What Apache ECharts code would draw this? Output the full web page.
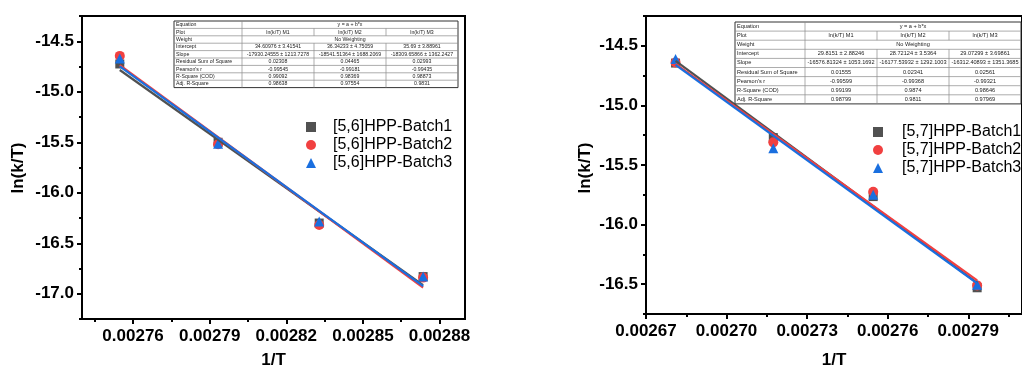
<!DOCTYPE html>
<html>
<head>
<meta charset="utf-8">
<script src="https://cdn.jsdelivr.net/npm/echarts@6/dist/echarts.min.js"></script>
<style>html,body{margin:0;padding:0;background:#fff}#c{width:1022px;height:374px}</style>
</head>
<body>
<div id="c"></div>
<script>
// ---------- data ----------
const leftNames = ['[5,6]HPP-Batch1', '[5,6]HPP-Batch2', '[5,6]HPP-Batch3'];
const leftX = [0.0027548, 0.0027933, 0.0028329, 0.0028736];
const leftB1 = [-14.725, -15.50, -16.30, -16.83];
const leftB2 = [-14.645, -15.52, -16.32, -16.84];
const leftB3 = [-14.67, -15.515, -16.285, -16.83];
const leftFitX = [0.0027548, 0.0028736];
const leftFitM1 = [-14.7845, -16.9146];
const leftFitM2 = [-14.736, -16.938];
const leftFitM3 = [-14.7495, -16.9246];

const rightNames = ['[5,7]HPP-Batch1', '[5,7]HPP-Batch2', '[5,7]HPP-Batch3'];
const rightX = [0.0026810, 0.0027174, 0.0027546, 0.0027933];
const rightB1 = [-14.645, -15.27, -15.765, -16.53];
const rightB2 = [-14.64, -15.31, -15.725, -16.51];
const rightB3 = [-14.61, -15.36, -15.75, -16.505];
const rightFitX = [0.0026810, 0.0027933];
const rightFitM1 = [-14.6274, -16.4889];
const rightFitM2 = [-14.6508, -16.4675];
const rightFitM3 = [-14.6606, -16.4924];

const leftXTicks = [0.00276, 0.00279, 0.00282, 0.00285, 0.00288];
const leftXMinor = [0.002745, 0.002775, 0.002805, 0.002835, 0.002865];
const leftYTicks = [-17.0, -16.5, -16.0, -15.5, -15.0, -14.5];
const leftYMinor = [-17.25, -16.75, -16.25, -15.75, -15.25, -14.75, -14.25];
const rightXTicks = [0.00267, 0.00270, 0.00273, 0.00276, 0.00279];
const rightXMinor = [0.002685, 0.002715, 0.002745, 0.002775, 0.002805];
const rightYTicks = [-16.5, -16.0, -15.5, -15.0, -14.5];
const rightYMinor = [-16.75, -16.25, -15.75, -15.25, -14.75, -14.25];

const tableHeadRows = [['Equation', 'y = a + b*x'], ['Plot', 'ln(k/T) M1', 'ln(k/T) M2', 'ln(k/T) M3'], ['Weight', 'No Weighting']];
const tableLabels = ['Intercept', 'Slope', 'Residual Sum of Square', "Pearson's r", 'R-Square (COD)', 'Adj. R-Square'];
const leftTableVals = [
  ['34.60976 ± 3.41541', '36.34233 ± 4.75059', '35.69 ± 3.88961'],
  ['-17930.24555 ± 1213.7278', '-18541.51364 ± 1688.2069', '-18309.65866 ± 1362.2427'],
  ['0.02308', '0.04465', '0.02993'],
  ['-0.99545', '-0.99181', '-0.99435'],
  ['0.99092', '0.98369', '0.98873'],
  ['0.98638', '0.97554', '0.9831']
];
const rightTableVals = [
  ['29.8151 ± 2.88246', '28.72124 ± 3.5364', '29.07299 ± 3.69861'],
  ['-16576.81324 ± 1053.1692', '-16177.53932 ± 1292.1003', '-16312.40893 ± 1351.3685'],
  ['0.01555', '0.02341', '0.02561'],
  ['-0.99599', '-0.99368', '-0.99321'],
  ['0.99199', '0.9874', '0.98646'],
  ['0.98799', '0.9811', '0.97969']
];

// ---------- styles ----------
const FONT = "'Liberation Sans', Arial, Helvetica, sans-serif";
const COLORS = ['#515151', '#F14040', '#1A6FDF'];
const SYMS = ['rect', 'circle', 'triangle'];
const SIZES = [9, 10, 10];

const zip = (xs, ys) => xs.map((x, i) => [x, ys[i]]);

function mainX(grid, min, max, ticks) {
  return {
    type: 'value', gridIndex: grid, min: min, max: max, position: 'bottom',
    name: '1/T', nameLocation: 'middle', nameGap: grid === 0 ? 33 : 38,
    nameTextStyle: { fontFamily: FONT, fontWeight: 'bold', fontSize: 17, color: '#000' },
    axisLine: { show: true, onZero: false, lineStyle: { color: '#000', width: 2 } },
    axisTick: { show: true, inside: false, length: 5, customValues: ticks, lineStyle: { color: '#000', width: 2 } },
    axisLabel: { show: true, customValues: ticks, margin: 9, fontFamily: FONT, fontWeight: 'bold', fontSize: 17, color: '#000',
      formatter: v => Number(v).toFixed(5) },
    splitLine: { show: false }
  };
}
function minorX(grid, min, max, ticks) {
  return {
    type: 'value', gridIndex: grid, min: min, max: max, position: 'bottom',
    axisLine: { show: false, onZero: false },
    axisTick: { show: true, inside: false, length: 3, customValues: ticks, lineStyle: { color: '#000', width: 2 } },
    axisLabel: { show: false }, splitLine: { show: false }
  };
}
function mainY(grid, min, max, ticks) {
  return {
    type: 'value', gridIndex: grid, min: min, max: max, position: 'left',
    axisLine: { show: true, onZero: false, lineStyle: { color: '#000', width: 2 } },
    axisTick: { show: true, inside: false, length: 5, customValues: ticks, lineStyle: { color: '#000', width: 2 } },
    axisLabel: { show: true, customValues: ticks, margin: 8, fontFamily: FONT, fontWeight: 'bold', fontSize: 17, color: '#000',
      formatter: v => Number(v).toFixed(1) },
    splitLine: { show: false }
  };
}
function minorY(grid, min, max, ticks) {
  return {
    type: 'value', gridIndex: grid, min: min, max: max, position: 'left',
    axisLine: { show: false, onZero: false },
    axisTick: { show: true, inside: false, length: 3, customValues: ticks, lineStyle: { color: '#000', width: 2 } },
    axisLabel: { show: false }, splitLine: { show: false }
  };
}

function scatter(name, xi, yi, xs, ys, k) {
  return { type: 'scatter', name: name, xAxisIndex: xi, yAxisIndex: yi, data: zip(xs, ys),
    symbol: SYMS[k], symbolSize: SIZES[k], itemStyle: { color: COLORS[k], opacity: 1 }, z: 3 + k, emphasis: { disabled: true } };
}
function fitLine(xi, yi, xs, ys, k) {
  return { type: 'line', xAxisIndex: xi, yAxisIndex: yi, data: zip(xs, ys), showSymbol: false, symbol: 'none',
    lineStyle: { color: COLORS[k], width: 2.2 }, z: 10 + k, silent: true, animation: false };
}

function buildTable(x0, y0, colW, rowH, fs, vals) {
  const els = [];
  const totalW = colW.reduce((a, b) => a + b, 0);
  const rows = tableHeadRows.concat(tableLabels.map((l, i) => [l].concat(vals[i])));
  const totalH = rowH * rows.length;
  els.push({ type: 'rect', shape: { x: x0, y: y0, width: totalW, height: totalH },
    style: { fill: '#fff', stroke: '#333', lineWidth: 1 }, z: 50 });
  const colX = [x0];
  colW.forEach(w => colX.push(colX[colX.length - 1] + w));
  rows.forEach((r, ri) => {
    const y = y0 + ri * rowH;
    if (ri > 0) els.push({ type: 'line', shape: { x1: x0, y1: y, x2: x0 + totalW, y2: y }, style: { stroke: '#8a8a8a', lineWidth: 0.7 }, z: 51 });
    els.push({ type: 'line', shape: { x1: colX[1], y1: y, x2: colX[1], y2: y + rowH }, style: { stroke: '#8a8a8a', lineWidth: 0.7 }, z: 51 });
    els.push({ type: 'text', x: x0 + 2, y: y + rowH / 2, style: { text: r[0], fontSize: fs, fontFamily: FONT, fill: '#222', align: 'left', verticalAlign: 'middle' }, z: 52 });
    if (r.length === 2) {
      els.push({ type: 'text', x: (colX[1] + colX[4]) / 2, y: y + rowH / 2, style: { text: r[1], fontSize: fs, fontFamily: FONT, fill: '#222', align: 'center', verticalAlign: 'middle' }, z: 52 });
    } else {
      for (let c = 1; c <= 3; c++) {
        if (c > 1) els.push({ type: 'line', shape: { x1: colX[c], y1: y, x2: colX[c], y2: y + rowH }, style: { stroke: '#8a8a8a', lineWidth: 0.7 }, z: 51 });
        els.push({ type: 'text', x: (colX[c] + colX[c + 1]) / 2, y: y + rowH / 2, style: { text: r[c], fontSize: fs, fontFamily: FONT, fill: '#222', align: 'center', verticalAlign: 'middle' }, z: 52 });
      }
    }
  });
  return els;
}

const chart = echarts.init(document.getElementById('c'), null, { renderer: 'canvas' });

const graphics = []
  .concat(buildTable(174, 21, [68, 72, 72, 72], 7.4, 5.2, leftTableVals))
  .concat(buildTable(735, 22, [70, 72, 72, 72], 9.1, 5.6, rightTableVals))
  .concat([
    { type: 'text', x: 18, y: 168, rotation: Math.PI / 2, style: { text: 'ln(k/T)', fontSize: 17, fontWeight: 'bold', fontFamily: FONT, fill: '#000', align: 'center', verticalAlign: 'middle' } },
    { type: 'text', x: 585, y: 168, rotation: Math.PI / 2, style: { text: 'ln(k/T)', fontSize: 17, fontWeight: 'bold', fontFamily: FONT, fill: '#000', align: 'center', verticalAlign: 'middle' } }
  ]);

function legendOf(left, top, names, pad) {
  return {
    left: left, top: top, data: names, padding: 0,
    orient: 'vertical', itemWidth: 10, itemHeight: 10, itemGap: 0,
    textStyle: { fontFamily: FONT, fontSize: 16, color: '#000', lineHeight: 18, padding: [0, 0, 0, pad] },
    selectedMode: false
  };
}

chart.setOption({
  animation: false,
  backgroundColor: '#fff',
  grid: [
    { left: 82, top: 16, width: 383, height: 307, show: true, borderColor: '#000', borderWidth: 2 },
    { left: 646, top: 16, width: 384, height: 307, show: true, borderColor: '#000', borderWidth: 2 }
  ],
  legend: [
    legendOf(306, 118, leftNames, 12),
    legendOf(873, 123, rightNames, 14)
  ],
  xAxis: [
    mainX(0, 0.00274, 0.00289, leftXTicks),
    minorX(0, 0.00274, 0.00289, leftXMinor),
    mainX(1, 0.00267, 0.00281, rightXTicks),
    minorX(1, 0.00267, 0.00281, rightXMinor)
  ],
  yAxis: [
    mainY(0, -17.25, -14.25, leftYTicks),
    minorY(0, -17.25, -14.25, leftYMinor),
    mainY(1, -16.75, -14.25, rightYTicks),
    minorY(1, -16.75, -14.25, rightYMinor)
  ],
  series: [
    scatter(leftNames[0], 0, 0, leftX, leftB1, 0),
    scatter(leftNames[1], 0, 0, leftX, leftB2, 1),
    scatter(leftNames[2], 0, 0, leftX, leftB3, 2),
    fitLine(0, 0, leftFitX, leftFitM1, 0),
    fitLine(0, 0, leftFitX, leftFitM2, 1),
    fitLine(0, 0, leftFitX, leftFitM3, 2),
    scatter(rightNames[0], 2, 2, rightX, rightB1, 0),
    scatter(rightNames[1], 2, 2, rightX, rightB2, 1),
    scatter(rightNames[2], 2, 2, rightX, rightB3, 2),
    fitLine(2, 2, rightFitX, rightFitM1, 0),
    fitLine(2, 2, rightFitX, rightFitM2, 1),
    fitLine(2, 2, rightFitX, rightFitM3, 2)
  ],
  graphic: graphics
});
</script>
</body>
</html>
